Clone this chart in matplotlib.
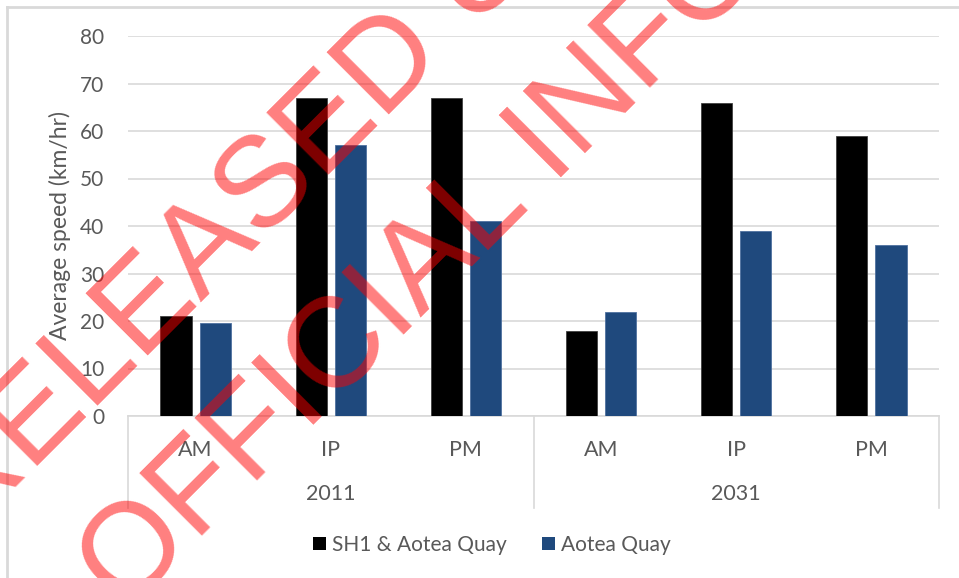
import numpy as np
import matplotlib.pyplot as plt
from matplotlib.patches import Patch
import matplotlib.transforms as mtransforms

plt.rcParams['font.family'] = ['Lato', 'DejaVu Sans']

periods = ['AM', 'IP', 'PM', 'AM', 'IP', 'PM']
years = ['2011', '2031']
sh1_aotea = [21, 67, 67, 18, 66, 59]
aotea = [19.5, 57, 41, 22, 39, 36]

grey = '#595959'
light = '#D9D9D9'

fig = plt.figure(figsize=(9.59, 5.78), dpi=100)
ax = fig.add_axes([128 / 959, 1 - 416 / 578, 811 / 959, 380 / 578])

x = np.arange(len(periods))
ax.bar(x - 0.145, sh1_aotea, width=0.23, color='black', edgecolor='#404040', linewidth=0.6,
       label='SH1 & Aotea Quay', zorder=3)
ax.bar(x + 0.145, aotea, width=0.23, color='#1F497D', edgecolor='#4F71A0', linewidth=0.6,
       label='Aotea Quay', zorder=3)

ax.set_xlim(-0.5, 5.5)
ax.set_ylim(0, 80)
ax.set_yticks(range(0, 81, 10))
ax.yaxis.grid(True, color=light, linewidth=1.2, zorder=0)
ax.set_axisbelow(True)
for s in ['top', 'right', 'left']:
    ax.spines[s].set_visible(False)
ax.spines['bottom'].set_color(light)
ax.spines['bottom'].set_linewidth(1.2)
ax.tick_params(axis='y', length=0, pad=17, labelsize=15, labelcolor=grey)
ax.tick_params(axis='x', length=0, pad=17, labelsize=15.5, labelcolor=grey)
ax.set_xticks(x)
ax.set_xticklabels(periods)
ax.set_ylabel('Average speed (km/hr)', fontsize=16.5, color=grey)
ax.yaxis.set_label_coords(-57 / 811, 0.5)

# two-level category axis: year labels and separators
trans = mtransforms.blended_transform_factory(ax.transData, ax.transAxes)
for sx in [-0.5, 2.5, 5.5]:
    ax.plot([sx, sx], [0, -92 / 380], transform=trans, color=light, linewidth=1.2, clip_on=False)
for i, yr in enumerate(years):
    ax.text(1 + 3 * i, -78 / 380, yr, transform=trans, ha='center', va='center',
            fontsize=15.5, color=grey)

handles = [Patch(facecolor='black'), Patch(facecolor='#1F497D')]
fig.legend(handles, ['SH1 & Aotea Quay', 'Aotea Quay'], loc='center', ncol=2,
           bbox_to_anchor=(492 / 959, 1 - 545 / 578), frameon=False, fontsize=15,
           handlelength=0.6, handleheight=0.6, handletextpad=0.3, columnspacing=1.7,
           labelcolor=grey)

# chart area border (left and top edges)
fig.add_artist(plt.Line2D([7 / 959, 7 / 959], [0, 1 - 7 / 578], color=light, linewidth=2,
                          transform=fig.transFigure))
fig.add_artist(plt.Line2D([7 / 959, 1], [1 - 7 / 578, 1 - 7 / 578], color=light, linewidth=2,
                          transform=fig.transFigure))

# release watermark
wm = dict(rotation=45, rotation_mode='anchor', ha='left', va='baseline', fontsize=92,
          color='red', alpha=0.5, family='Liberation Sans', zorder=10)
fig.text(-35 / 959, 1 - 538 / 578, 'RELEASED UNDER THE', **wm)
fig.text(125 / 959, 1 - 613 / 578, 'OFFICIAL INFORMATION ACT', **wm)

fig.savefig('out.png', dpi=100)
